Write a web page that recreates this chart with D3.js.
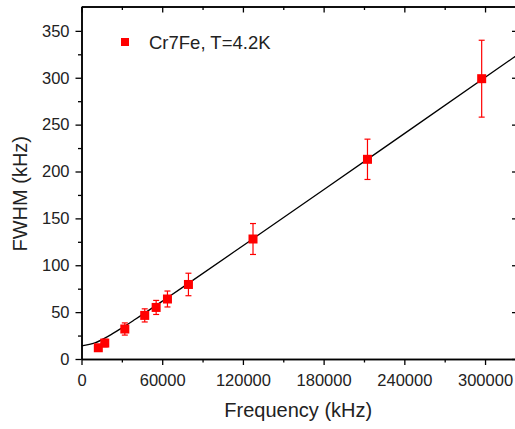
<!DOCTYPE html>
<html>
<head>
<meta charset="utf-8">
<script src="https://cdn.jsdelivr.net/npm/d3@7"></script>
<style>
  body { margin: 0; background: #fff; }
  text { font-family: "Liberation Sans", Arial, sans-serif; fill: #222; }
</style>
</head>
<body>
<script>
//Width and height
var w = 515;
var h = 429;

//Plot box
var padLeft = 81.5, padRight = 518, padTop = 6.5, padBottom = 359;

//Measured points
var freq = [12500, 17300, 32200, 47000, 55500, 63900, 79500, 127500, 212600, 297500];
var fwhm = [12, 17, 32, 46.5, 55, 64, 79.5, 128, 213, 299];
var err  = [3, 4, 6.5, 7, 7.5, 8.5, 12, 16.5, 21.5, 41];

//Fit curve
var fitFreq = [0, 10000, 20000, 30000, 40000, 60000, 80000, 120000, 180000, 240000, 324500];
var fitFwhm = [14, 17.2, 24.4, 33.1, 42.4, 61.6, 81.2, 120.8, 180.5, 240.4, 324.8];

//Ticks
var xTicks = [0, 60000, 120000, 180000, 240000, 300000];
var xMinor = [30000, 90000, 150000, 210000, 270000];
var yTicks = [0, 50, 100, 150, 200, 250, 300, 350];
var yMinor = [25, 75, 125, 175, 225, 275, 325];

var seriesName = "Cr7Fe, T=4.2K";

var dataset = freq.map(function(f, i) {
    return { f: f, v: fwhm[i], e: err[i] };
});
var fit = fitFreq.map(function(f, i) { return { f: f, v: fitFwhm[i] }; });

//Scales
var xScale = d3.scaleLinear().domain([0, 324500]).range([padLeft, padRight]);
var yScale = d3.scaleLinear().domain([0, 376]).range([padBottom, padTop]);

//Create SVG element
var svg = d3.select("body")
    .append("svg")
    .attr("width", w)
    .attr("height", h);

//Fit line
var line = d3.line()
    .x(function(d) { return xScale(d.f); })
    .y(function(d) { return yScale(d.v); })
    .curve(d3.curveMonotoneX);

svg.append("path")
    .datum(fit)
    .attr("d", line)
    .attr("fill", "none")
    .attr("stroke", "#000")
    .attr("stroke-width", 1.3);

//Error bars
var bars = svg.selectAll("g.err")
    .data(dataset)
    .enter()
    .append("g")
    .attr("class", "err")
    .attr("stroke", "#ff0000")
    .attr("stroke-width", 1.2);

bars.append("line")
    .attr("x1", d => xScale(d.f))
    .attr("x2", d => xScale(d.f))
    .attr("y1", d => yScale(d.v + d.e))
    .attr("y2", d => yScale(d.v - d.e));

bars.append("line")
    .attr("x1", d => xScale(d.f) - 3)
    .attr("x2", d => xScale(d.f) + 3)
    .attr("y1", d => yScale(d.v + d.e))
    .attr("y2", d => yScale(d.v + d.e));

bars.append("line")
    .attr("x1", d => xScale(d.f) - 3)
    .attr("x2", d => xScale(d.f) + 3)
    .attr("y1", d => yScale(d.v - d.e))
    .attr("y2", d => yScale(d.v - d.e));

//Square markers
svg.selectAll("rect.pt")
    .data(dataset)
    .enter()
    .append("rect")
    .attr("class", "pt")
    .attr("x", d => xScale(d.f) - 4.5)
    .attr("y", d => yScale(d.v) - 4.5)
    .attr("width", 9)
    .attr("height", 9)
    .attr("fill", "#ff0000");

//Axes
function styleAxis(g) {
    g.select(".domain").attr("stroke", "#000").attr("stroke-width", 1.5);
    g.selectAll(".tick line").attr("stroke", "#000").attr("stroke-width", 1.3);
    g.selectAll(".tick text")
        .attr("fill", "#222")
        .style("font-family", "'Liberation Sans', Arial, sans-serif")
        .style("font-size", "16.5px");
}

var fmt = d3.format("d");

//Bottom
svg.append("g")
    .attr("transform", "translate(0," + padBottom + ")")
    .call(d3.axisBottom(xScale).tickValues(xTicks).tickFormat(fmt).tickSize(6).tickPadding(9).tickSizeOuter(0))
    .call(styleAxis);
svg.append("g")
    .attr("transform", "translate(0," + padBottom + ")")
    .call(d3.axisBottom(xScale).tickValues(xMinor).tickSize(3.5).tickFormat("").tickSizeOuter(0))
    .call(styleAxis);

//Top
svg.append("g")
    .attr("transform", "translate(0," + padTop + ")")
    .call(d3.axisTop(xScale).tickValues(xTicks).tickSize(-6).tickFormat("").tickSizeOuter(0))
    .call(styleAxis);
svg.append("g")
    .attr("transform", "translate(0," + padTop + ")")
    .call(d3.axisTop(xScale).tickValues(xMinor).tickSize(-3.5).tickFormat("").tickSizeOuter(0))
    .call(styleAxis);

//Left
svg.append("g")
    .attr("transform", "translate(" + padLeft + ",0)")
    .call(d3.axisLeft(yScale).tickValues(yTicks).tickFormat(fmt).tickSize(6).tickPadding(6).tickSizeOuter(0))
    .call(styleAxis);
svg.append("g")
    .attr("transform", "translate(" + padLeft + ",0)")
    .call(d3.axisLeft(yScale).tickValues(yMinor).tickSize(3.5).tickFormat("").tickSizeOuter(0))
    .call(styleAxis);

//Right
svg.append("g")
    .attr("transform", "translate(" + padRight + ",0)")
    .call(d3.axisRight(yScale).tickValues(yTicks).tickSize(-6).tickFormat("").tickSizeOuter(0))
    .call(styleAxis);

//Axis titles
svg.append("text")
    .attr("x", (padLeft + 515) / 2)
    .attr("y", 417)
    .attr("text-anchor", "middle")
    .style("font-size", "20px")
    .text("Frequency (kHz)");

svg.append("text")
    .attr("transform", "translate(27," + ((padTop + padBottom) / 2 + 11) + ") rotate(-90)")
    .attr("text-anchor", "middle")
    .style("font-size", "20px")
    .text("FWHM (kHz)");

//Legend
svg.append("rect")
    .attr("x", 121)
    .attr("y", 38)
    .attr("width", 8)
    .attr("height", 8)
    .attr("fill", "#ff0000");

svg.append("text")
    .attr("x", 149)
    .attr("y", 49)
    .style("font-size", "18.5px")
    .text(seriesName);
</script>
</body>
</html>
